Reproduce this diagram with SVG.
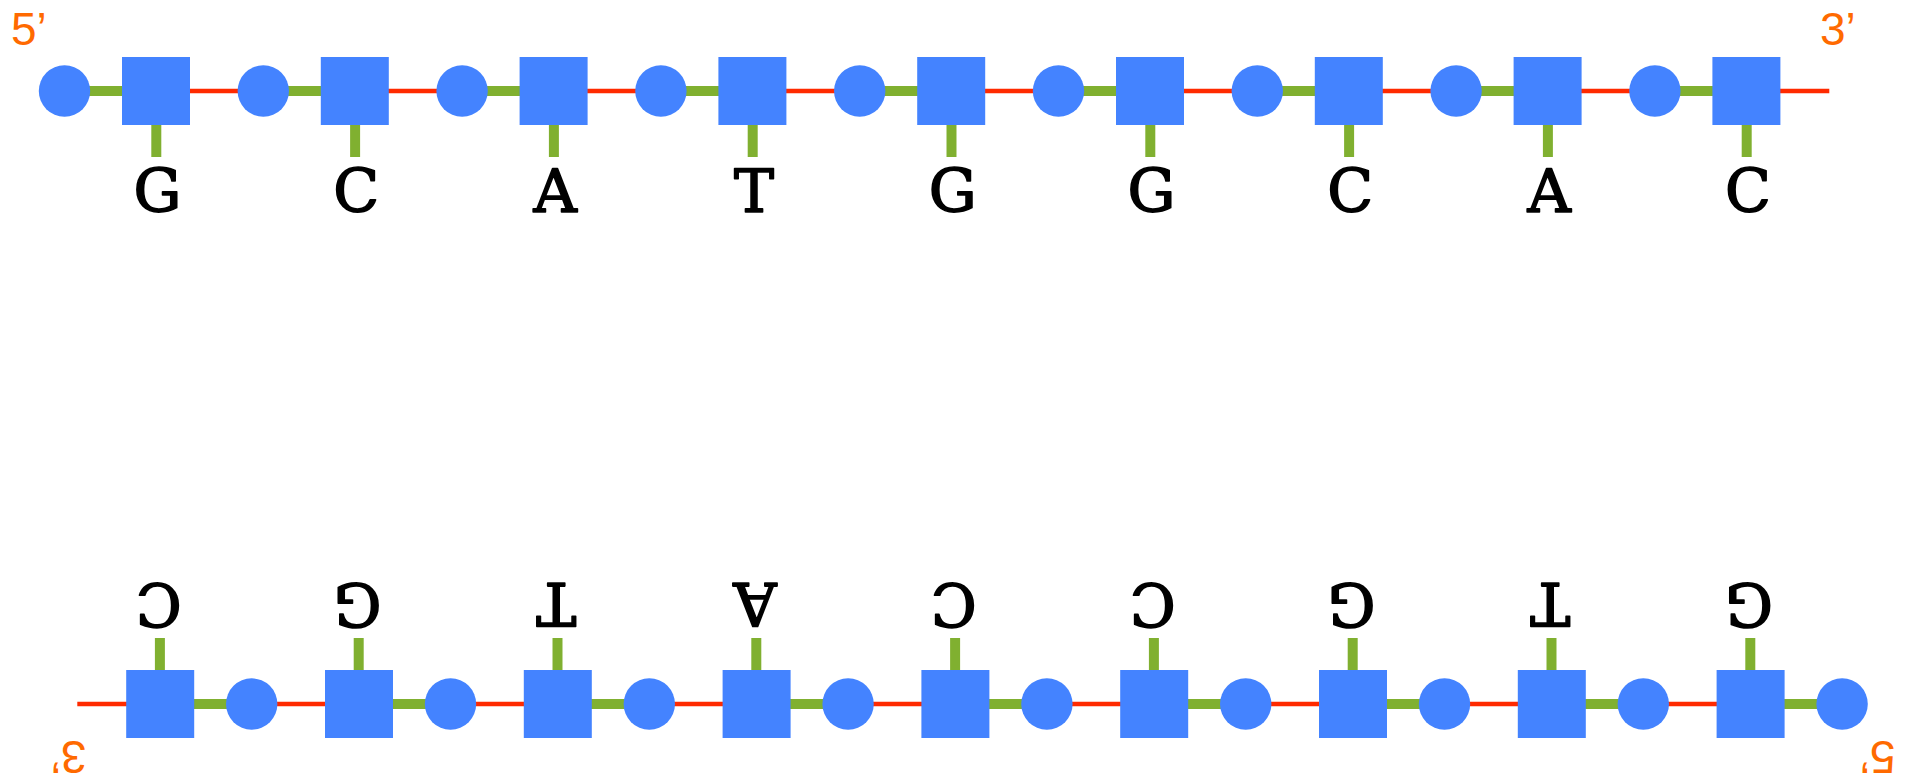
<svg xmlns="http://www.w3.org/2000/svg" width="1910" height="783" viewBox="0 0 1910 783">
  <style>
    .sugar { fill: #4483ff; }
    .base { fill: #4483ff; }
    .backbone { stroke: #ff2a00; stroke-width: 4.5; fill: none; }
    .link { stroke: #80b030; stroke-width: 10; fill: none; }
    .letter { font-family: "DejaVu Serif", "Liberation Serif", serif; font-size: 60px; fill: #000; stroke: #000; stroke-width: 1.6; stroke-linejoin: round; text-anchor: middle; }
    .end { font-family: "Liberation Sans", Arial, sans-serif; font-size: 46px; fill: #ff6a00; }
  </style>
  <defs>
    <circle id="sugar" r="25.7"/>
    <rect id="base" x="-34" y="-34" width="68" height="68"/>
  </defs>

  <!-- 5' to 3' strand -->
  <g id="strand-top">
    <g id="top-connectors">
      <line class="backbone" x1="156" y1="91" x2="1829.3" y2="91"/>
      <line class="link" x1="64.5" y1="91" x2="156" y2="91"/>
      <line class="link" x1="263.3" y1="91" x2="354.8" y2="91"/>
      <line class="link" x1="462.1" y1="91" x2="553.6" y2="91"/>
      <line class="link" x1="660.9" y1="91" x2="752.4" y2="91"/>
      <line class="link" x1="859.7" y1="91" x2="951.2" y2="91"/>
      <line class="link" x1="1058.5" y1="91" x2="1150" y2="91"/>
      <line class="link" x1="1257.3" y1="91" x2="1348.8" y2="91"/>
      <line class="link" x1="1456.1" y1="91" x2="1547.6" y2="91"/>
      <line class="link" x1="1654.9" y1="91" x2="1746.4" y2="91"/>
      <line class="link" x1="156.3" y1="120" x2="156.3" y2="157"/>
      <line class="link" x1="355.1" y1="120" x2="355.1" y2="157"/>
      <line class="link" x1="553.9" y1="120" x2="553.9" y2="157"/>
      <line class="link" x1="752.7" y1="120" x2="752.7" y2="157"/>
      <line class="link" x1="951.5" y1="120" x2="951.5" y2="157"/>
      <line class="link" x1="1150.3" y1="120" x2="1150.3" y2="157"/>
      <line class="link" x1="1349.1" y1="120" x2="1349.1" y2="157"/>
      <line class="link" x1="1547.9" y1="120" x2="1547.9" y2="157"/>
      <line class="link" x1="1746.7" y1="120" x2="1746.7" y2="157"/>
    </g>
    <g id="top-sugar-1"><use href="#sugar" class="sugar" x="64.5" y="91"/></g>
    <g id="top-base-1"><use href="#base" class="base" x="156" y="91"/><text class="letter" x="157.5" y="212">G</text></g>
    <g id="top-sugar-2"><use href="#sugar" class="sugar" x="263.3" y="91"/></g>
    <g id="top-base-2"><use href="#base" class="base" x="354.8" y="91"/><text class="letter" x="356.3" y="212">C</text></g>
    <g id="top-sugar-3"><use href="#sugar" class="sugar" x="462.1" y="91"/></g>
    <g id="top-base-3"><use href="#base" class="base" x="553.6" y="91"/><text class="letter" x="555.1" y="212">A</text></g>
    <g id="top-sugar-4"><use href="#sugar" class="sugar" x="660.9" y="91"/></g>
    <g id="top-base-4"><use href="#base" class="base" x="752.4" y="91"/><text class="letter" x="753.9" y="212">T</text></g>
    <g id="top-sugar-5"><use href="#sugar" class="sugar" x="859.7" y="91"/></g>
    <g id="top-base-5"><use href="#base" class="base" x="951.2" y="91"/><text class="letter" x="952.7" y="212">G</text></g>
    <g id="top-sugar-6"><use href="#sugar" class="sugar" x="1058.5" y="91"/></g>
    <g id="top-base-6"><use href="#base" class="base" x="1150" y="91"/><text class="letter" x="1151.5" y="212">G</text></g>
    <g id="top-sugar-7"><use href="#sugar" class="sugar" x="1257.3" y="91"/></g>
    <g id="top-base-7"><use href="#base" class="base" x="1348.8" y="91"/><text class="letter" x="1350.3" y="212">C</text></g>
    <g id="top-sugar-8"><use href="#sugar" class="sugar" x="1456.1" y="91"/></g>
    <g id="top-base-8"><use href="#base" class="base" x="1547.6" y="91"/><text class="letter" x="1549.1" y="212">A</text></g>
    <g id="top-sugar-9"><use href="#sugar" class="sugar" x="1654.9" y="91"/></g>
    <g id="top-base-9"><use href="#base" class="base" x="1746.4" y="91"/><text class="letter" x="1747.9" y="212">C</text></g>
    <g id="top-end-5"><text class="end" x="11" y="45">5’</text></g>
    <g id="top-end-3"><text class="end" x="1820" y="45">3’</text></g>
  </g>

  <!-- complementary strand, drawn in the same frame and turned half a turn -->
  <g id="strand-bottom" transform="rotate(180 953.3 397.5)">
    <g id="bottom-connectors">
      <line class="backbone" x1="156" y1="91" x2="1829.3" y2="91"/>
      <line class="link" x1="64.5" y1="91" x2="156" y2="91"/>
      <line class="link" x1="263.3" y1="91" x2="354.8" y2="91"/>
      <line class="link" x1="462.1" y1="91" x2="553.6" y2="91"/>
      <line class="link" x1="660.9" y1="91" x2="752.4" y2="91"/>
      <line class="link" x1="859.7" y1="91" x2="951.2" y2="91"/>
      <line class="link" x1="1058.5" y1="91" x2="1150" y2="91"/>
      <line class="link" x1="1257.3" y1="91" x2="1348.8" y2="91"/>
      <line class="link" x1="1456.1" y1="91" x2="1547.6" y2="91"/>
      <line class="link" x1="1654.9" y1="91" x2="1746.4" y2="91"/>
      <line class="link" x1="156.3" y1="120" x2="156.3" y2="157"/>
      <line class="link" x1="355.1" y1="120" x2="355.1" y2="157"/>
      <line class="link" x1="553.9" y1="120" x2="553.9" y2="157"/>
      <line class="link" x1="752.7" y1="120" x2="752.7" y2="157"/>
      <line class="link" x1="951.5" y1="120" x2="951.5" y2="157"/>
      <line class="link" x1="1150.3" y1="120" x2="1150.3" y2="157"/>
      <line class="link" x1="1349.1" y1="120" x2="1349.1" y2="157"/>
      <line class="link" x1="1547.9" y1="120" x2="1547.9" y2="157"/>
      <line class="link" x1="1746.7" y1="120" x2="1746.7" y2="157"/>
    </g>
    <g id="bottom-sugar-1"><use href="#sugar" class="sugar" x="64.5" y="91"/></g>
    <g id="bottom-base-1"><use href="#base" class="base" x="156" y="91"/><text class="letter" x="157.5" y="212">G</text></g>
    <g id="bottom-sugar-2"><use href="#sugar" class="sugar" x="263.3" y="91"/></g>
    <g id="bottom-base-2"><use href="#base" class="base" x="354.8" y="91"/><text class="letter" x="356.3" y="212">T</text></g>
    <g id="bottom-sugar-3"><use href="#sugar" class="sugar" x="462.1" y="91"/></g>
    <g id="bottom-base-3"><use href="#base" class="base" x="553.6" y="91"/><text class="letter" x="555.1" y="212">G</text></g>
    <g id="bottom-sugar-4"><use href="#sugar" class="sugar" x="660.9" y="91"/></g>
    <g id="bottom-base-4"><use href="#base" class="base" x="752.4" y="91"/><text class="letter" x="753.9" y="212">C</text></g>
    <g id="bottom-sugar-5"><use href="#sugar" class="sugar" x="859.7" y="91"/></g>
    <g id="bottom-base-5"><use href="#base" class="base" x="951.2" y="91"/><text class="letter" x="952.7" y="212">C</text></g>
    <g id="bottom-sugar-6"><use href="#sugar" class="sugar" x="1058.5" y="91"/></g>
    <g id="bottom-base-6"><use href="#base" class="base" x="1150" y="91"/><text class="letter" x="1151.5" y="212">A</text></g>
    <g id="bottom-sugar-7"><use href="#sugar" class="sugar" x="1257.3" y="91"/></g>
    <g id="bottom-base-7"><use href="#base" class="base" x="1348.8" y="91"/><text class="letter" x="1350.3" y="212">T</text></g>
    <g id="bottom-sugar-8"><use href="#sugar" class="sugar" x="1456.1" y="91"/></g>
    <g id="bottom-base-8"><use href="#base" class="base" x="1547.6" y="91"/><text class="letter" x="1549.1" y="212">G</text></g>
    <g id="bottom-sugar-9"><use href="#sugar" class="sugar" x="1654.9" y="91"/></g>
    <g id="bottom-base-9"><use href="#base" class="base" x="1746.4" y="91"/><text class="letter" x="1747.9" y="212">C</text></g>
    <g id="bottom-end-5"><text class="end" x="11" y="54">5’</text></g>
    <g id="bottom-end-3"><text class="end" x="1820" y="54">3’</text></g>
  </g>
</svg>
